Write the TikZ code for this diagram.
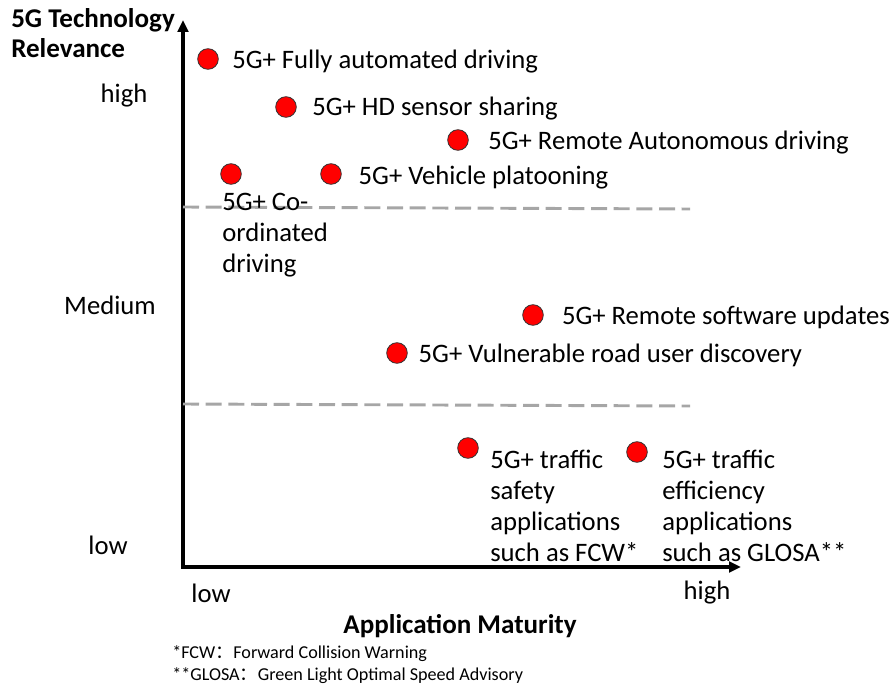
\documentclass[tikz,border=0pt]{standalone}
\usepackage{fontspec}
\setmainfont{Carlito}
\newfontfamily\cjk{Noto Sans CJK SC}
\usetikzlibrary{arrows.meta, positioning}

\begin{document}
\begin{tikzpicture}[x=0.75pt, y=-0.75pt, >={Triangle[length=9pt,width=8pt]},
		dot/.style={circle, draw=black!80, fill=red, minimum size=15.5pt, inner sep=0pt, line width=0.6pt},
		lbl/.style={font=\fontsize{20}{23.3}\selectfont, inner sep=0pt, align=left},
		axtitle/.style={font=\fontsize{20.3}{22.5}\selectfont\bfseries, inner sep=0pt, align=left},
		level/.style={draw=black!35, line width=2.2pt, dash pattern=on 12pt off 5pt},
		note/.style={font=\fontsize{13.6}{16}\selectfont, inner sep=0pt, anchor=west}]
		\useasboundingbox (0,0) rectangle (892,684);

		% axes
		\coordinate (origin) at (183,567);
		\coordinate (ytop) at (183,20);
		\coordinate (xend) at (741,567);
		\draw[<->, line width=2.6pt, line join=miter] (ytop) -- (origin) -- (xend);

		% level borders
		\coordinate (midtop) at (183,207);
		\coordinate (midbot) at (183,404);
		\draw[level] (midtop) -- ++(507,2);
		\draw[level] (midbot) -- ++(507,2);

		% axis titles and levels
		\node[axtitle, anchor=north west] (ytitle) at (11,8) {5G Technology\\Relevance};
		\node[lbl, anchor=center] (yhigh) at (124,96) {high};
		\node[lbl, anchor=center] (ymed) at (110,305) {Medium};
		\node[lbl, anchor=center] (ylow) at (108,545) {low};
		\node[lbl, anchor=center] (xlow) at (211,593) {low};
		\node[lbl, anchor=center] (xhigh) at (707,593) {high};
		\node[axtitle, anchor=center] (xtitle) at (460,626) {Application Maturity};

		% use cases
		\node[dot] (fully) at (208,59) {};
		\node[lbl, right=10pt of fully, yshift=-2pt] (fullytxt) {5G+ Fully automated driving};
		\node[dot] (sensor) at (286,107) {};
		\node[lbl, right=11.5pt of sensor, yshift=-1pt] (sensortxt) {5G+ HD sensor sharing};
		\node[dot] (remote) at (458,140) {};
		\node[lbl, right=14.5pt of remote, yshift=-2pt] (remotetxt) {5G+ Remote Autonomous driving};
		\node[dot] (coord) at (231,174) {};
		\node[lbl, anchor=north west] (coordtxt) at (222,193) {5G+ Co-\\ordinated\\driving};
		\node[dot] (platoon) at (331,174) {};
		\node[lbl, right=12.5pt of platoon, yshift=-3pt] (platoontxt) {5G+ Vehicle platooning};
		\node[dot] (software) at (533,315) {};
		\node[lbl, right=13.5pt of software, yshift=-2pt] (softwaretxt) {5G+ Remote software updates};
		\node[dot] (vru) at (397,353) {};
		\node[lbl, right=8pt of vru, yshift=-2pt] (vrutxt) {5G+ Vulnerable road user discovery};
		\node[dot] (safety) at (468,448) {};
		\node[lbl, anchor=north west] (safetytxt) at (490,450) {5G+ traffic\\safety\\applications\\such as FCW*};
		\node[dot] (efficiency) at (637,452) {};
		\node[lbl, anchor=north west] (efficiencytxt) at (662,450) {5G+ traffic\\efficiency\\applications\\such as GLOSA**};

		% footnotes
		\node[note] (fcw) at (172,654) {*FCW{\cjk ：}Forward Collision Warning};
		\node[note] (glosa) at (172,676) {**GLOSA{\cjk ：}Green Light Optimal Speed Advisory};
	\end{tikzpicture}
\end{document}
